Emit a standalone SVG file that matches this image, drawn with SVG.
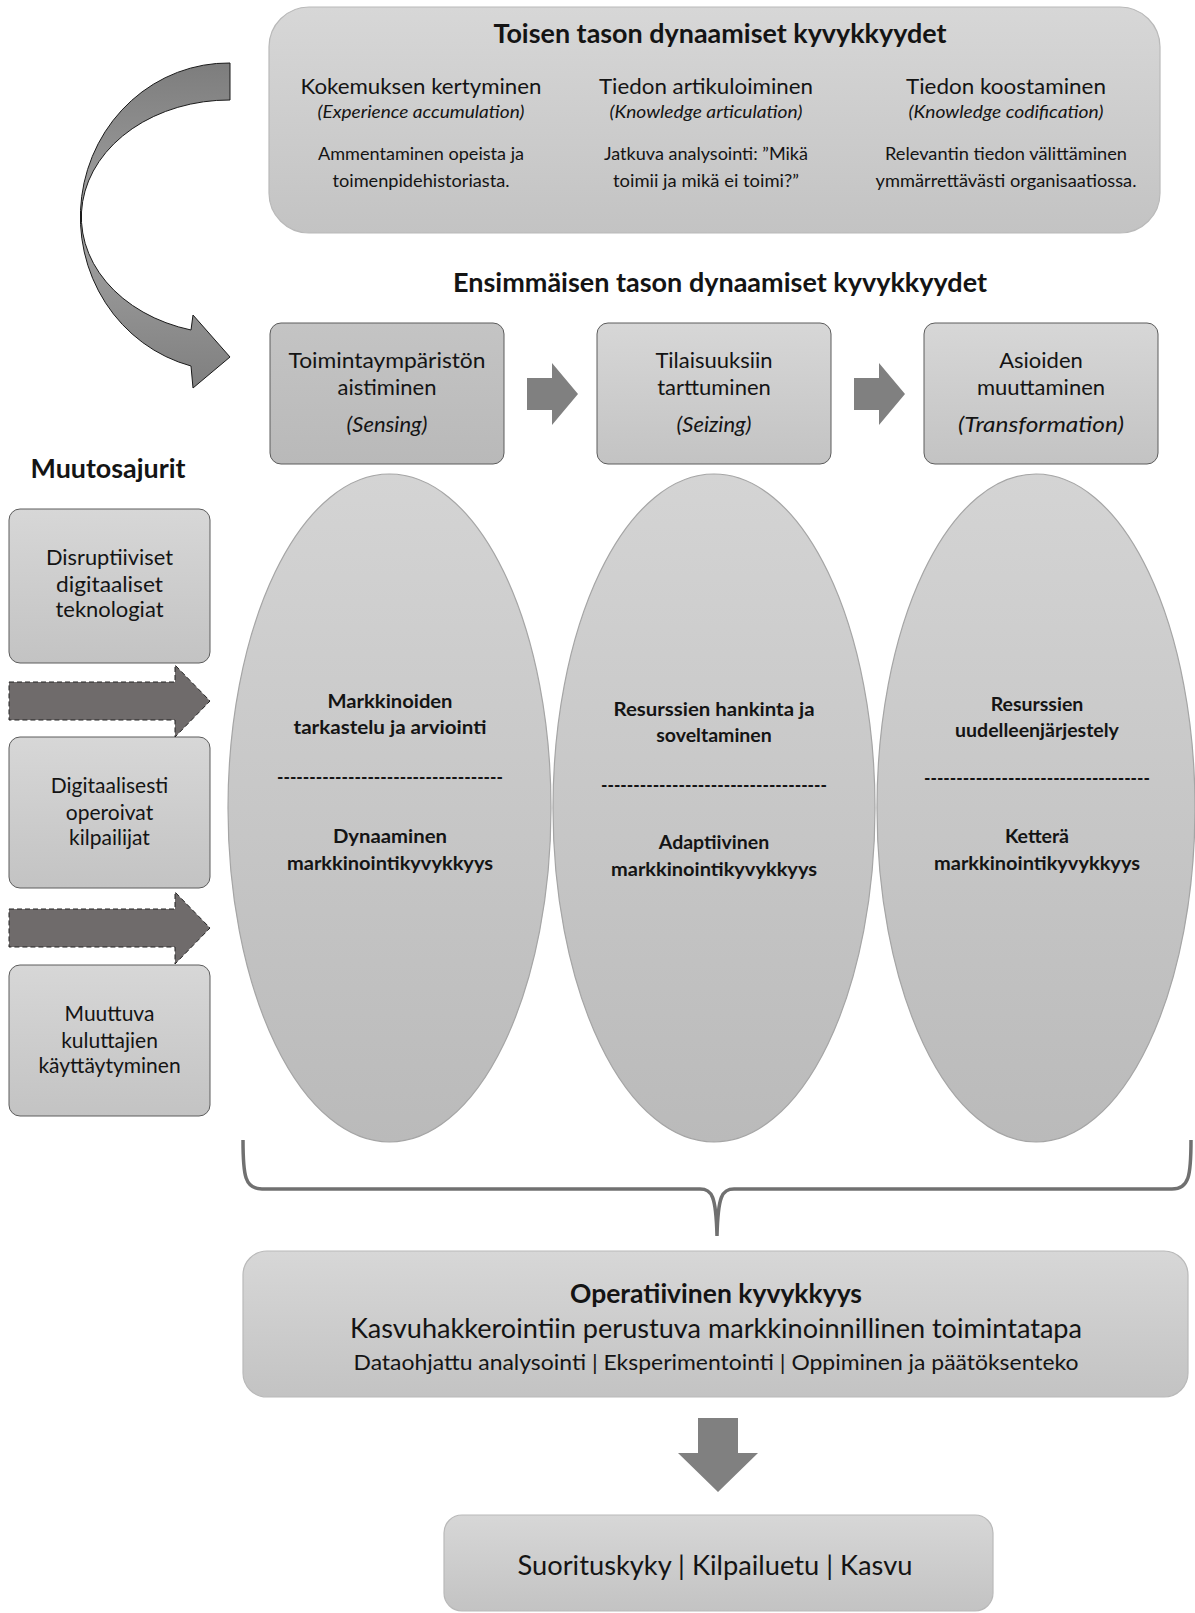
<svg xmlns="http://www.w3.org/2000/svg" width="1195" height="1613" viewBox="0 0 1195 1613">
<defs>
  <linearGradient id="gBox" x1="0" y1="0" x2="0" y2="1">
    <stop offset="0" stop-color="#d7d7d7"/>
    <stop offset="1" stop-color="#c3c3c3"/>
  </linearGradient>
  <linearGradient id="gDark" x1="0" y1="0" x2="0" y2="1">
    <stop offset="0" stop-color="#c4c4c4"/>
    <stop offset="1" stop-color="#b9b9b9"/>
  </linearGradient>
  <linearGradient id="gEll" x1="0" y1="0" x2="0" y2="1">
    <stop offset="0" stop-color="#d4d4d4"/>
    <stop offset="1" stop-color="#bababa"/>
  </linearGradient>
  <linearGradient id="gCurve" x1="0" y1="0" x2="0" y2="1">
    <stop offset="0" stop-color="#7d7d7d"/>
    <stop offset="0.5" stop-color="#a3a3a3"/>
    <stop offset="1" stop-color="#7f7f7f"/>
  </linearGradient>
  <path id="stepArrow" d="M0,-16 H25 V-31 L51,0 L25,31 V16 H0 Z"/>
  <path id="dashArrow" d="M0,-19 H166 V-36 L201,0 L166,36 V19 H0 Z"/>
</defs>
<style>
  text { font-family: Lato, "Liberation Sans", sans-serif; fill: #141414; text-anchor: middle; }
  .b { font-weight: bold; }
  .i { font-style: italic; }
  .big { fill: url(#gBox); stroke: #b9b9b9; stroke-width: 1.2; }
  .box { fill: url(#gBox); stroke: #5c5c5c; stroke-width: 1; }
  .boxd { fill: url(#gDark); stroke: #5c5c5c; stroke-width: 1; }
  .ell { fill: url(#gEll); stroke: #a5a5a5; stroke-width: 1.2; }
  .t22 { font-size: 22px; }
  .t17 { font-size: 17px; }
  .t16 { font-size: 16.5px; }
  .tb26 { font-size: 26px; font-weight: bold; }
  .te { font-size: 19.5px; font-weight: bold; }
  .tm { font-size: 21px; }
  .step { fill: #808080; }
  .dash { fill: #6f6b6b; stroke: #222; stroke-width: 1; stroke-dasharray: 5 3; }
</style>

<rect width="1195" height="1613" fill="#ffffff"/>

<!-- Second-level dynamic capabilities -->
<g id="second-level">
  <rect class="big" x="269" y="7" width="891" height="226" rx="40"/>
  <text class="tb26" x="720" y="43" textLength="453" lengthAdjust="spacingAndGlyphs">Toisen tason dynaamiset kyvykkyydet</text>
  <text class="t22" x="421" y="94" textLength="241" lengthAdjust="spacingAndGlyphs">Kokemuksen kertyminen</text>
  <text class="t17 i" x="421" y="118" textLength="207" lengthAdjust="spacingAndGlyphs">(Experience accumulation)</text>
  <text class="t16" x="421" y="160" textLength="206" lengthAdjust="spacingAndGlyphs">Ammentaminen opeista ja</text>
  <text class="t16" x="421" y="187" textLength="177" lengthAdjust="spacingAndGlyphs">toimenpidehistoriasta.</text>

  <text class="t22" x="706" y="94" textLength="214" lengthAdjust="spacingAndGlyphs">Tiedon artikuloiminen</text>
  <text class="t17 i" x="706" y="118" textLength="193" lengthAdjust="spacingAndGlyphs">(Knowledge articulation)</text>
  <text class="t16" x="706" y="160" textLength="204" lengthAdjust="spacingAndGlyphs">Jatkuva analysointi: ”Mikä</text>
  <text class="t16" x="706" y="187" textLength="186" lengthAdjust="spacingAndGlyphs">toimii ja mikä ei toimi?”</text>

  <text class="t22" x="1006" y="94" textLength="200" lengthAdjust="spacingAndGlyphs">Tiedon koostaminen</text>
  <text class="t17 i" x="1006" y="118" textLength="195" lengthAdjust="spacingAndGlyphs">(Knowledge codification)</text>
  <text class="t16" x="1006" y="160" textLength="242" lengthAdjust="spacingAndGlyphs">Relevantin tiedon välittäminen</text>
  <text class="t16" x="1006" y="187" textLength="261" lengthAdjust="spacingAndGlyphs">ymmärrettävästi organisaatiossa.</text>
</g>

<g id="first-level-title">
  <text class="tb26" x="720" y="292" textLength="534" lengthAdjust="spacingAndGlyphs">Ensimmäisen tason dynaamiset kyvykkyydet</text>
</g>

<g id="sensing">
  <rect class="boxd" x="270" y="323" width="234" height="141" rx="11"/>
  <text class="t22" x="387" y="368" textLength="197" lengthAdjust="spacingAndGlyphs">Toimintaympäristön</text>
  <text class="t22" x="387" y="395">aistiminen</text>
  <text class="t22 i" x="387" y="432">(Sensing)</text>
</g>
<g id="seizing">
  <rect class="box" x="597" y="323" width="234" height="141" rx="11"/>
  <text class="t22" x="714" y="368">Tilaisuuksiin</text>
  <text class="t22" x="714" y="395">tarttuminen</text>
  <text class="t22 i" x="714" y="432">(Seizing)</text>
</g>
<g id="transformation">
  <rect class="box" x="924" y="323" width="234" height="141" rx="11"/>
  <text class="t22" x="1041" y="368">Asioiden</text>
  <text class="t22" x="1041" y="395">muuttaminen</text>
  <text class="t22 i" x="1041" y="432" textLength="166" lengthAdjust="spacingAndGlyphs">(Transformation)</text>
</g>

<!-- Change drivers -->
<g id="drivers-title">
  <text class="tb26" x="108" y="478" textLength="155" lengthAdjust="spacingAndGlyphs">Muutosajurit</text>
</g>
<g id="driver-tech">
  <rect class="box" x="9" y="509" width="201" height="154" rx="11"/>
  <text class="tm" x="109.5" y="565" textLength="127" lengthAdjust="spacingAndGlyphs">Disruptiiviset</text>
  <text class="tm" x="109.5" y="592" textLength="107" lengthAdjust="spacingAndGlyphs">digitaaliset</text>
  <text class="tm" x="109.5" y="617" textLength="108" lengthAdjust="spacingAndGlyphs">teknologiat</text>
</g>
<g id="driver-competitors">
  <rect class="box" x="9" y="737" width="201" height="151" rx="11"/>
  <text class="tm" x="109.5" y="793">Digitaalisesti</text>
  <text class="tm" x="109.5" y="820">operoivat</text>
  <text class="tm" x="109.5" y="845">kilpailijat</text>
</g>
<g id="driver-consumers">
  <rect class="box" x="9" y="965" width="201" height="151" rx="11"/>
  <text class="tm" x="109.5" y="1021">Muuttuva</text>
  <text class="tm" x="109.5" y="1048">kuluttajien</text>
  <text class="tm" x="109.5" y="1073">käyttäytyminen</text>
</g>

<!-- Ellipses -->
<g id="ellipse-sensing">
  <ellipse class="ell" cx="389.5" cy="808" rx="161.5" ry="334"/>
  <text class="te" x="390" y="708" textLength="125" lengthAdjust="spacingAndGlyphs">Markkinoiden</text>
  <text class="te" x="390" y="734" textLength="193" lengthAdjust="spacingAndGlyphs">tarkastelu ja arviointi</text>
  <text class="te" x="390" y="784" textLength="226" lengthAdjust="spacingAndGlyphs">-----------------------------------</text>
  <text class="te" x="390" y="843" textLength="114" lengthAdjust="spacingAndGlyphs">Dynaaminen</text>
  <text class="te" x="390" y="870" textLength="206" lengthAdjust="spacingAndGlyphs">markkinointikyvykkyys</text>
</g>
<g id="ellipse-seizing">
  <ellipse class="ell" cx="714" cy="808" rx="161" ry="334"/>
  <text class="te" x="714" y="716" textLength="201" lengthAdjust="spacingAndGlyphs">Resurssien hankinta ja</text>
  <text class="te" x="714" y="742">soveltaminen</text>
  <text class="te" x="714" y="792" textLength="226" lengthAdjust="spacingAndGlyphs">-----------------------------------</text>
  <text class="te" x="714" y="849">Adaptiivinen</text>
  <text class="te" x="714" y="876" textLength="206" lengthAdjust="spacingAndGlyphs">markkinointikyvykkyys</text>
</g>
<g id="ellipse-transformation">
  <ellipse class="ell" cx="1036" cy="808" rx="159" ry="334"/>
  <text class="te" x="1037" y="711">Resurssien</text>
  <text class="te" x="1037" y="737">uudelleenjärjestely</text>
  <text class="te" x="1037" y="785" textLength="226" lengthAdjust="spacingAndGlyphs">-----------------------------------</text>
  <text class="te" x="1037" y="843">Ketterä</text>
  <text class="te" x="1037" y="870" textLength="206" lengthAdjust="spacingAndGlyphs">markkinointikyvykkyys</text>
</g>

<!-- Operational capability -->
<g id="operational">
  <rect class="big" x="243" y="1251" width="945" height="146" rx="24"/>
  <text class="tb26" x="716" y="1303" textLength="292" lengthAdjust="spacingAndGlyphs">Operatiivinen kyvykkyys</text>
  <text x="716" y="1338" font-size="26" textLength="732" lengthAdjust="spacingAndGlyphs">Kasvuhakkerointiin perustuva markkinoinnillinen toimintatapa</text>
  <text x="716" y="1370" font-size="21" textLength="725" lengthAdjust="spacingAndGlyphs">Dataohjattu analysointi | Eksperimentointi | Oppiminen ja päätöksenteko</text>
</g>

<g id="outcome">
  <rect class="big" x="444" y="1515" width="549" height="96" rx="18"/>
  <text x="715" y="1575" font-size="26" textLength="395" lengthAdjust="spacingAndGlyphs">Suorituskyky | Kilpailuetu | Kasvu</text>
</g>

<!-- Connectors -->
<g id="connectors">
  <path d="M230,63 A148,154 0 0 0 191,366 L193,388 L230,357 L193,315 L191,330 A148,117 0 0 1 230,100 Z" fill="url(#gCurve)" stroke="#1a1a1a" stroke-width="1"/>
  <use href="#stepArrow" class="step" x="527" y="394"/>
  <use href="#stepArrow" class="step" x="854" y="394"/>
  <use href="#dashArrow" class="dash" x="9" y="701"/>
  <use href="#dashArrow" class="dash" x="9" y="928"/>
  <path d="M243,1140 C243,1176 245,1189 262,1189 L700,1189 C712,1189 716,1196 717,1236 C718,1196 722,1189 734,1189 L1172,1189 C1189,1189 1191,1176 1191,1140" fill="none" stroke="#707070" stroke-width="3.5"/>
  <path d="M698,1418 H738 V1453 H758 L718,1492 L678,1453 H698 Z" fill="#808080"/>
</g>
</svg>
